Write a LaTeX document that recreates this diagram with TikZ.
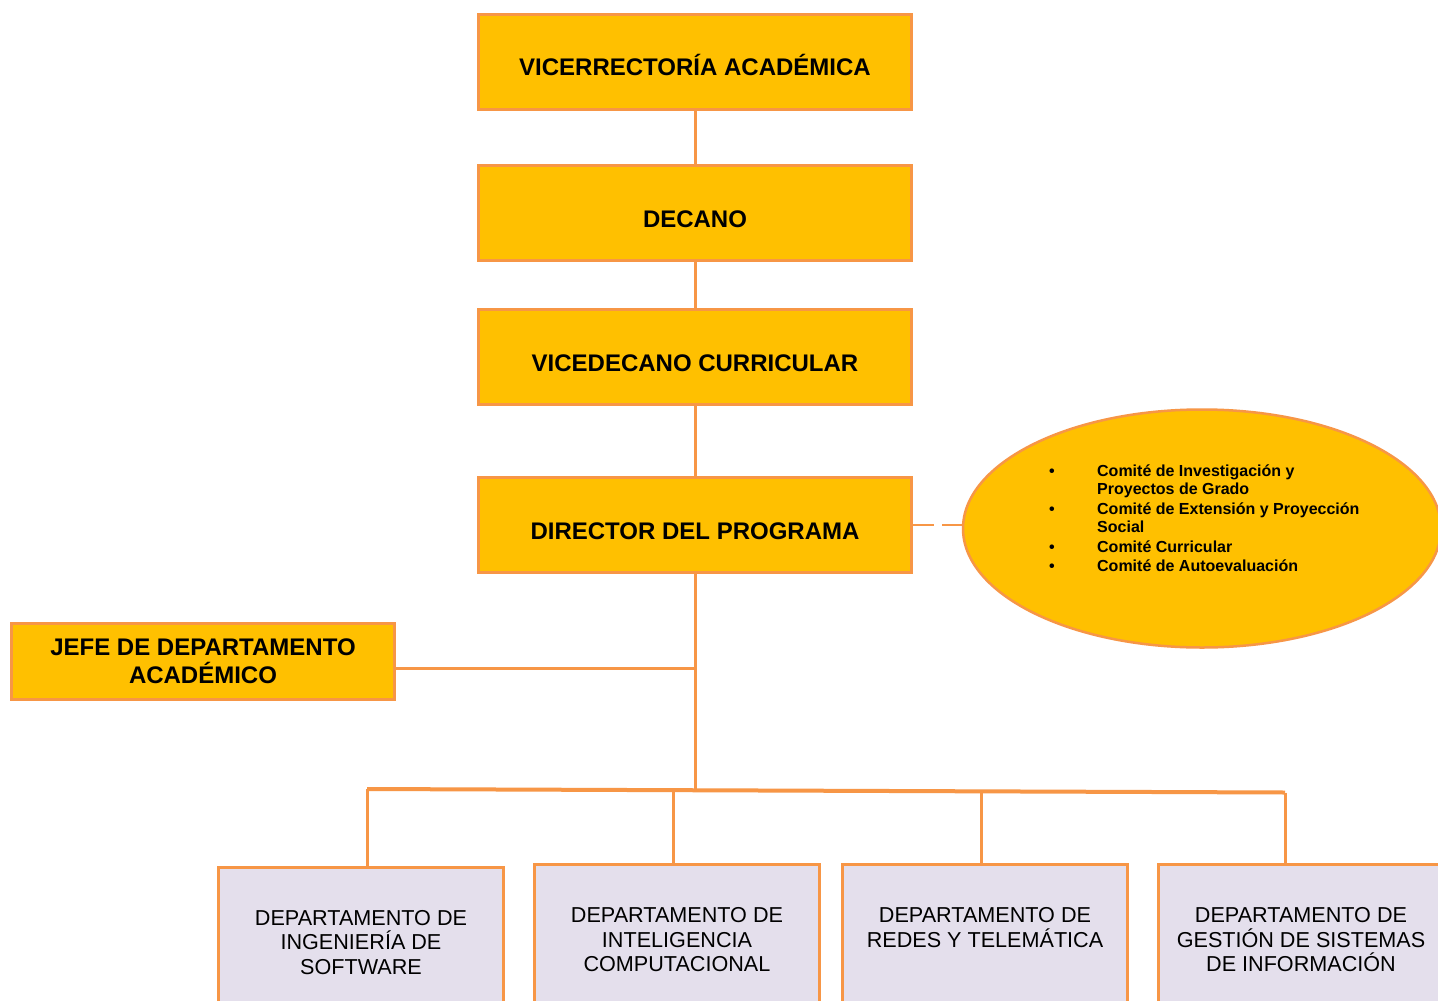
\documentclass[tikz,border=0pt]{standalone}
\usepackage{fontspec}
\setmainfont{Liberation Sans}
\usetikzlibrary{shapes.geometric,calc}
\definecolor{boxyellow}{HTML}{FFC000}
\definecolor{lineorange}{HTML}{F79646}
\definecolor{deptfill}{HTML}{E4DFEC}
\begin{document}
\begin{tikzpicture}[x=1pt,y=-1pt,
  titlebox/.style={draw=lineorange, line width=3pt, fill=boxyellow, minimum width=433pt, minimum height=95pt, inner sep=0pt, font=\bfseries\fontsize{24}{28}\selectfont, text height=28.2pt, text depth=0pt},
  jefebox/.style={draw=lineorange, line width=3pt, fill=boxyellow, minimum width=383pt, minimum height=76pt, inner sep=0pt, align=center, font=\bfseries\fontsize{24}{28}\selectfont},
  deptbox/.style={draw=lineorange, line width=3pt, fill=deptfill, minimum width=285pt, minimum height=200pt, inner sep=0pt, anchor=north},
  depttext/.style={font=\fontsize{21.6}{24.5}\selectfont, align=center, inner sep=0pt, anchor=north},
  conn/.style={draw=lineorange, line width=3pt}]
\clip (0,0) rectangle (1438,1001);
\fill[white] (0,0) rectangle (1438,1001);

% main chain
\node[titlebox] (vr)  at (695,61.5) {VICERRECTORÍA ACADÉMICA};
\node[titlebox] (dec) at (695,213)  {DECANO};
\node[titlebox] (vdc) at (695,357)  {VICEDECANO CURRICULAR};
\node[titlebox] (dir) at (695,525)  {DIRECTOR DEL PROGRAMA};
\node[jefebox]  (jefe) at (203,661.5) {JEFE DE DEPARTAMENTO\\ACADÉMICO};

% committees ellipse
\node[ellipse, draw=lineorange, line width=2.5pt, fill=boxyellow, minimum width=478pt, minimum height=238pt, inner sep=0pt] (comites) at (1202,528.5) {};
\node[anchor=north west, inner sep=0pt, font=\bfseries\fontsize{16}{18}\selectfont] (comitelist) at (1049,464) {%
\begin{tabular}{@{}p{48pt}@{}l@{}}
\textbullet & Comité de Investigación y\\
 & Proyectos de Grado\\[2pt]
\textbullet & Comité de Extensión y Proyección\\
 & Social\\[2pt]
\textbullet & Comité Curricular\\[1pt]
\textbullet & Comité de Autoevaluación
\end{tabular}};

% departments
\node[deptbox] (d1) at (361,866) {};
\node[deptbox] (d2) at (677,863) {};
\node[deptbox] (d3) at (985,863) {};
\node[deptbox] (d4) at (1301,863) {};
\node[depttext] (t1) at ([yshift=-44pt]d1.north) {DEPARTAMENTO DE\\INGENIERÍA DE\\SOFTWARE};
\node[depttext] (t2) at ([yshift=-44.5pt]d2.north) {DEPARTAMENTO DE\\INTELIGENCIA\\COMPUTACIONAL};
\node[depttext] (t3) at ([yshift=-44.5pt]d3.north) {DEPARTAMENTO DE\\REDES Y TELEMÁTICA};
\node[depttext] (t4) at ([yshift=-44.5pt]d4.north) {DEPARTAMENTO DE\\GESTIÓN DE SISTEMAS\\DE INFORMACIÓN};

% connectors
\draw[conn] (vr.south) -- (dec.north);
\draw[conn] (dec.south) -- (vdc.north);
\draw[conn] (vdc.south) -- (dir.north);
\coordinate (busmid) at (695,789.5);
\draw[conn] (dir.south) -- (busmid);
\draw[conn] ([yshift=-6.5pt]jefe.east) -- ([yshift=-6.5pt]jefe.east -| dir.south);
\draw[conn, line width=2.5pt, dash pattern=on 21pt off 8pt] (dir.east) -- (dir.east -| comites.west);

\coordinate (b1) at (367,789);
\coordinate (b2) at (673,790);
\coordinate (b3) at (981,791);
\coordinate (b4) at (1285,792.5);
\draw[conn, line width=4pt] (b1) -- (b4);
\draw[conn] (b1) -- (b1 |- d1.north);
\draw[conn] (b2) -- (b2 |- d2.north);
\draw[conn] (b3) -- (b3 |- d3.north);
\draw[conn] (b4) -- (b4 |- d4.north);
\end{tikzpicture}
\end{document}
